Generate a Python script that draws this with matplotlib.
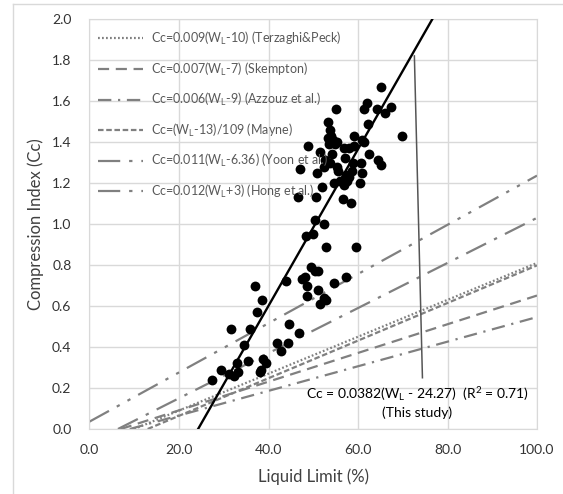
import matplotlib
matplotlib.use("Agg")
import matplotlib.pyplot as plt
from matplotlib.lines import Line2D
import numpy as np

plt.rcParams['font.family'] = ['Lato', 'DejaVu Sans']
plt.rcParams['mathtext.fontset'] = 'custom'
plt.rcParams['mathtext.rm'] = 'Lato'
plt.rcParams['mathtext.it'] = 'Lato'

# ---- data ----
liquid_limit = [65.2, 61.9, 61.3, 64.3, 67.4, 66.1, 55.1, 53.3, 62.2, 69.8,
                53.8, 54.0, 53.4, 54.5, 55.3, 53.6, 54.9,
                59.0, 60.9, 61.3, 56.8, 57.9, 59.2,
                48.9, 51.6, 54.2, 52.7, 53.7, 57.0,
                58.9, 60.7, 62.5, 64.5, 65.2,
                47.1, 50.8, 52.5, 55.4, 55.6, 57.3, 58.7, 61.0,
                54.7, 56.0, 56.8, 58.0, 57.5, 60.4,
                51.9, 46.6, 50.7, 56.6, 58.5,
                50.3, 52.5, 48.3, 49.9, 52.8, 59.6,
                49.5, 50.4, 51.0, 48.2, 47.5, 48.6, 51.0, 48.6, 52.5, 51.6, 52.8, 54.7, 57.3,
                44.0, 37.0, 38.6, 37.4, 44.5, 31.7, 35.8, 46.9, 34.6, 41.8, 44.3, 42.8,
                38.7, 35.5, 39.5, 38.4, 38.0, 32.9, 29.4, 31.2, 32.2, 33.1, 27.4]
comp_index = [1.67, 1.59, 1.56, 1.56, 1.57, 1.54, 1.56, 1.50, 1.49, 1.43,
              1.46, 1.43, 1.42, 1.41, 1.40, 1.39, 1.39,
              1.43, 1.41, 1.40, 1.37, 1.37, 1.38,
              1.38, 1.35, 1.34, 1.31, 1.30, 1.32,
              1.30, 1.30, 1.34, 1.31, 1.29,
              1.27, 1.25, 1.28, 1.28, 1.26, 1.24, 1.26, 1.25,
              1.20, 1.21, 1.19, 1.23, 1.21, 1.20,
              1.18, 1.13, 1.13, 1.12, 1.10,
              1.02, 1.00, 0.94, 0.95, 0.89, 0.89,
              0.79, 0.77, 0.77, 0.74, 0.73, 0.70, 0.68, 0.65, 0.64, 0.61, 0.63, 0.71, 0.74,
              0.72, 0.70, 0.63, 0.57, 0.51, 0.49, 0.49, 0.47, 0.41, 0.42, 0.42, 0.38,
              0.34, 0.33, 0.32, 0.29, 0.28, 0.32, 0.29, 0.27, 0.26, 0.28, 0.24]

# empirical correlations: Cc = slope * (WL - offset)
corr_labels = ['Cc=0.009(W$_\\mathregular{L}$-10) (Terzaghi&Peck)',
               'Cc=0.007(W$_\\mathregular{L}$-7) (Skempton)',
               'Cc=0.006(W$_\\mathregular{L}$-9) (Azzouz et al.)',
               'Cc=(W$_\\mathregular{L}$-13)/109 (Mayne)',
               'Cc=0.011(W$_\\mathregular{L}$-6.36) (Yoon et al.)',
               'Cc=0.012(W$_\\mathregular{L}$+3) (Hong et al.)']
corr_slope = [0.009, 0.007, 0.006, 1 / 109, 0.011, 0.012]
corr_offset = [10, 7, 9, 13, 6.36, -3]
corr_xstart = [10, 7, 9, 13, 6.36, 0]
corr_styles = [(0, (0.8, 1.0)), (0, (5, 3)), (0, (6, 3, 1, 3)), (0, (2.5, 1.2)),
               (0, (10, 4, 1.5, 4)), (0, (10, 4, 1.5, 4, 1.5, 4))]

study_slope = 0.0382
study_offset = 24.27

fig = plt.figure(figsize=(5.63, 4.94), dpi=100)
ax = fig.add_axes([89.5 / 563, 1 - 429 / 494, (537 - 89.5) / 563, (429 - 19) / 494])

gray = '#808080'
for lab, s, o, xs, ls in zip(corr_labels, corr_slope, corr_offset, corr_xstart, corr_styles):
    xx = np.array([xs, 100.0])
    ax.plot(xx, s * (xx - o), color=gray, lw=1.6, linestyle=ls, label=lab)

ax.scatter(liquid_limit, comp_index, s=50, color='black', zorder=5, linewidths=0)

xx = np.array([study_offset, study_offset + 2.0 / study_slope])
ax.plot(xx, study_slope * (xx - study_offset), color='black', lw=1.7, zorder=6)

# leader line to annotation
ax.plot([72.6, 74.4], [1.82, 0.25], color='#555555', lw=1.1, zorder=6)
ax.text(73.3, 0.13, 'Cc = 0.0382(W$_\\mathregular{L}$ - 24.27)  (R$^\\mathregular{2}$ = 0.71)\n(This study)',
        ha='center', va='center', fontsize=10, color='black', linespacing=1.3)

ax.set_xlim(0, 100)
ax.set_ylim(0, 2.0)
ax.set_xticks(np.arange(0, 101, 20))
ax.set_yticks(np.arange(0, 2.01, 0.2))
ax.set_xticklabels([f'{v:.1f}' for v in np.arange(0, 101, 20)])
ax.set_yticklabels([f'{v:.1f}' for v in np.arange(0, 2.01, 0.2)])
ax.tick_params(length=0, labelsize=10, labelcolor='#333333')
ax.tick_params(axis='y', pad=13)
ax.tick_params(axis='x', pad=11)
ax.grid(True, color='#d9d9d9', lw=1)
ax.set_axisbelow(True)
for sp in ax.spines.values():
    sp.set_color('#d9d9d9')

ax.set_xlabel('Liquid Limit (%)', fontsize=12, color='#404040', labelpad=9)
ax.set_ylabel('Compression Index (Cc)', fontsize=12, color='#404040', labelpad=6)

leg = ax.legend(loc='upper left', bbox_to_anchor=(0.0, 0.995), frameon=False,
                fontsize=9, handlelength=3.6, labelspacing=1.08, labelcolor='#595959',
                handletextpad=0.6, borderaxespad=0.3)

# outer chart border
fig.add_artist(Line2D([13 / 563, 1], [1 - 4 / 494, 1 - 4 / 494], color='#d9d9d9', lw=1))
fig.add_artist(Line2D([13 / 563, 13 / 563], [0, 1 - 4 / 494], color='#d9d9d9', lw=1))

fig.savefig('out.png', dpi=100)
